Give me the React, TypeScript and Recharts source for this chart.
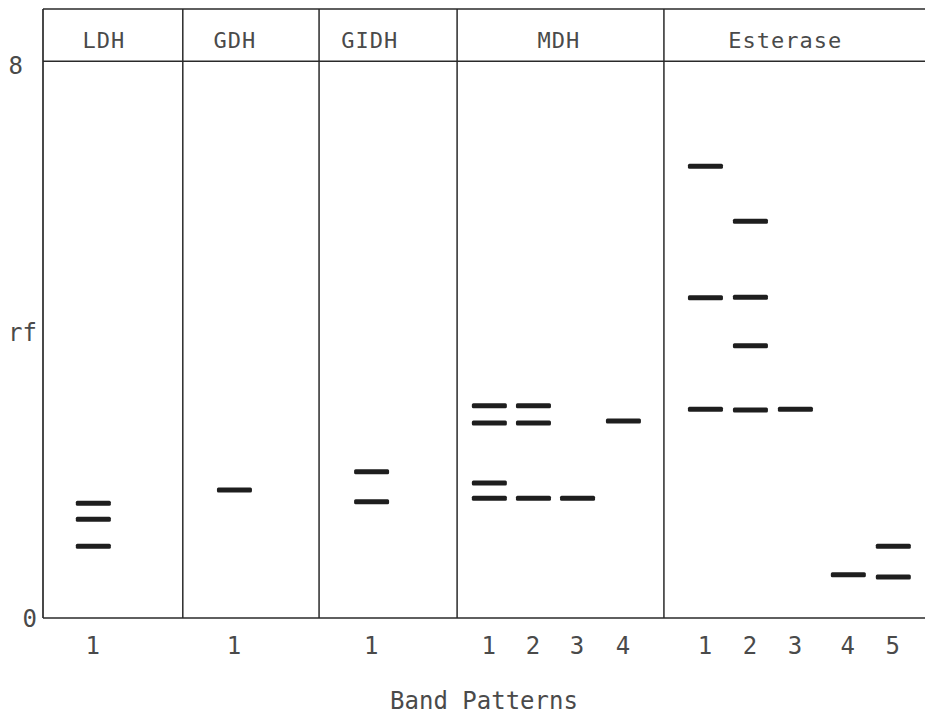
import { ComposedChart, ReferenceLine, Scatter, XAxis, YAxis } from "recharts";

// lanes along the x axis (one per band pattern), left to right
const laneLabels = ["1", "1", "1", "1", "2", "3", "4", "1", "2", "3", "4", "5"];
const lanePositions = [1.13, 4.33, 7.44, 10.11, 11.11, 12.11, 13.15, 15.01, 16.03, 17.05, 18.25, 19.27];

// enzyme panels
const panelNames = ["LDH", "GDH", "GIDH", "MDH", "Esterase"];
const panelLabelPositions = [1.38, 4.35, 7.41, 11.7, 16.83];
const panelDividers = [3.17, 6.26, 9.39, 14.08];

// rf of every band, per lane
const ldh1 = [1.65, 1.42, 1.03];
const gdh1 = [1.84];
const gidh1 = [2.1, 1.67];
const mdh1 = [3.05, 2.8, 1.94, 1.72];
const mdh2 = [3.05, 2.8, 1.72];
const mdh3 = [1.72];
const mdh4 = [2.83];
const est1 = [6.49, 4.6, 3.0];
const est2 = [5.7, 4.61, 3.91, 2.99];
const est3 = [3.0];
const est4 = [0.62];
const est5 = [1.03, 0.59];

const laneBands = [ldh1, gdh1, gidh1, mdh1, mdh2, mdh3, mdh4, est1, est2, est3, est4, est5];

const yTicks = [0, 4.1, 8];
const yTickText = ["0", "rf", "8"];
const rfTop = 8;
const frameTop = 8.75;
const headerLevel = 8.19;

const bandData = laneBands.flatMap((rfs, i) => rfs.map((rf) => ({ x: lanePositions[i], rf })));
const headerData = panelNames.map((name, i) => ({ x: panelLabelPositions[i], rf: headerLevel, name }));

const FONT = "'DejaVu Sans Mono', monospace";
const INK = "#2a2a2a";
const TEXT = "#4a4a4a";

const Band = (props: any) => (
  <rect x={props.cx - 17} y={props.cy - 2.5} width={35} height={5} rx={1.5} fill="#1e1e1e" />
);

const Header = (props: any) => (
  <text
    x={props.cx}
    y={props.cy}
    textAnchor="middle"
    fontFamily={FONT}
    fontSize={22}
    letterSpacing={1}
    fill={TEXT}
  >
    {props.payload.name}
  </text>
);

const YTick = (props: any) => {
  const { x, y, payload } = props;
  const idx = yTicks.indexOf(payload.value);
  const isTop = payload.value === rfTop;
  return (
    <text
      x={x + (isTop ? -14 : 0)}
      y={y + (isTop ? 4 : 0)}
      dy="0.36em"
      textAnchor="end"
      fontFamily={FONT}
      fontSize={24}
      fill={TEXT}
    >
      {yTickText[idx]}
    </text>
  );
};

const laneTick = (v: number) => laneLabels[lanePositions.indexOf(v)] ?? "";

export default function App() {
  return (
    <div style={{ position: "absolute", left: 0, top: 0, background: "#fff" }}>
      <ComposedChart
        width={925}
        height={716}
        margin={{ top: 9, right: 0, bottom: 0, left: 0 }}
      >
        <XAxis
          type="number"
          dataKey="x"
          domain={[0, 20]}
          ticks={lanePositions}
          tickFormatter={laneTick}
          interval={0}
          height={98}
          tickLine={false}
          tickSize={0}
          tickMargin={19}
          axisLine={{ stroke: INK, strokeWidth: 1.7 }}
          tick={{ fontFamily: FONT, fontSize: 24, fill: TEXT }}
          label={{
            value: "Band Patterns",
            position: "insideBottom",
            offset: 7,
            style: { fontFamily: FONT, fontSize: 24, fill: TEXT },
          }}
        />
        <YAxis
          type="number"
          dataKey="rf"
          domain={[0, frameTop]}
          ticks={yTicks}
          width={43}
          tickLine={false}
          tickSize={0}
          tickMargin={6}
          axisLine={{ stroke: INK, strokeWidth: 1.7 }}
          tick={<YTick />}
        />
        <ReferenceLine y={frameTop} stroke={INK} strokeWidth={1.7} />
        <ReferenceLine y={rfTop} stroke={INK} strokeWidth={1.5} />
        {panelDividers.map((d) => (
          <ReferenceLine key={d} x={d} stroke={INK} strokeWidth={1.5} />
        ))}
        <Scatter data={bandData} shape={<Band />} isAnimationActive={false} />
        <Scatter data={headerData} shape={<Header />} isAnimationActive={false} />
      </ComposedChart>
    </div>
  );
}
